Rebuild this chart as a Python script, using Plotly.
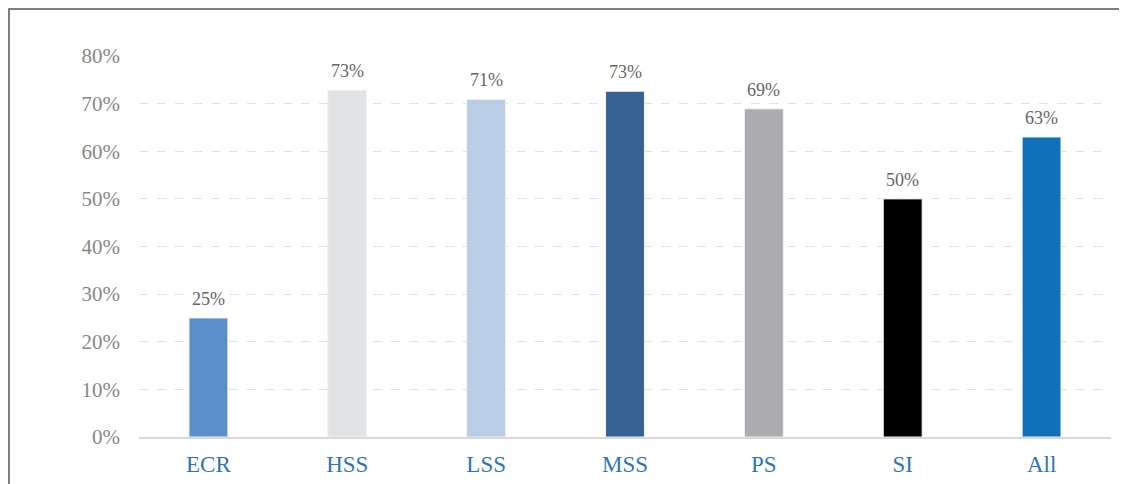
import plotly.graph_objects as go

categories = ["ECR", "HSS", "LSS", "MSS", "PS", "SI", "All"]
values = [0.25, 0.728, 0.709, 0.726, 0.689, 0.50, 0.63]
labels = ["25%", "73%", "71%", "73%", "69%", "50%", "63%"]
colors = ["#5B8FC9", "#E2E3E5", "#B9CDE5", "#356193", "#ABABB0", "#000000", "#1170BA"]
y_ticks = [0, 0.1, 0.2, 0.3, 0.4, 0.5, 0.6, 0.7, 0.8]
y_tick_labels = ["0%", "10%", "20%", "30%", "40%", "50%", "60%", "70%", "80%"]

fig = go.Figure()
fig.add_trace(go.Bar(
    x=categories, y=values,
    marker=dict(color=colors, line=dict(color="#F2F2F2", width=1)),
    cliponaxis=False,
))

for c, v, t in zip(categories, values, labels):
    fig.add_annotation(x=c, y=v, text=t, showarrow=False, yanchor="bottom",
                       yshift=7, font=dict(family="Liberation Serif", size=18, color="#666666"))

OFF = 8
W, H = 1127 - OFF, 484 - OFF
L, T = 139 - OFF, 56 - OFF
R = 16
B = H - (437 - OFF)
pw = W - L - R

def px(x):
    return (x - OFF - L) / pw

def py(y):
    return (437 - y) / (437 - 56)

fig.add_shape(type="path", xref="paper", yref="paper",
              path=f"M {px(9)} {py(500)} L {px(9)} {py(9)} L {px(1140)} {py(9)}",
              line=dict(color="#555555", width=1.5))

fig.update_layout(
    width=W, height=H,
    margin=dict(l=L, r=R, t=T, b=B, autoexpand=False),
    paper_bgcolor="white", plot_bgcolor="white",
    bargap=0.72,
    showlegend=False,
    font=dict(family="Liberation Serif"),
    xaxis=dict(
        tickfont=dict(family="Liberation Serif", size=23, color="#2E75B6"),
        showline=True, linecolor="#D9D9D9", linewidth=2,
        ticks="", showgrid=False, ticklabelstandoff=5, automargin=False,
    ),
    yaxis=dict(
        range=[0, 0.8], tickvals=y_ticks, ticktext=y_tick_labels,
        tickfont=dict(family="Liberation Serif", size=21, color="#888888"),
        showgrid=True, gridcolor="#E3E3E3", griddash="dash", gridwidth=1,
        zeroline=False, ticks="", ticklabelstandoff=18, automargin=False,
    ),
)

fig.write_html("out.html")
